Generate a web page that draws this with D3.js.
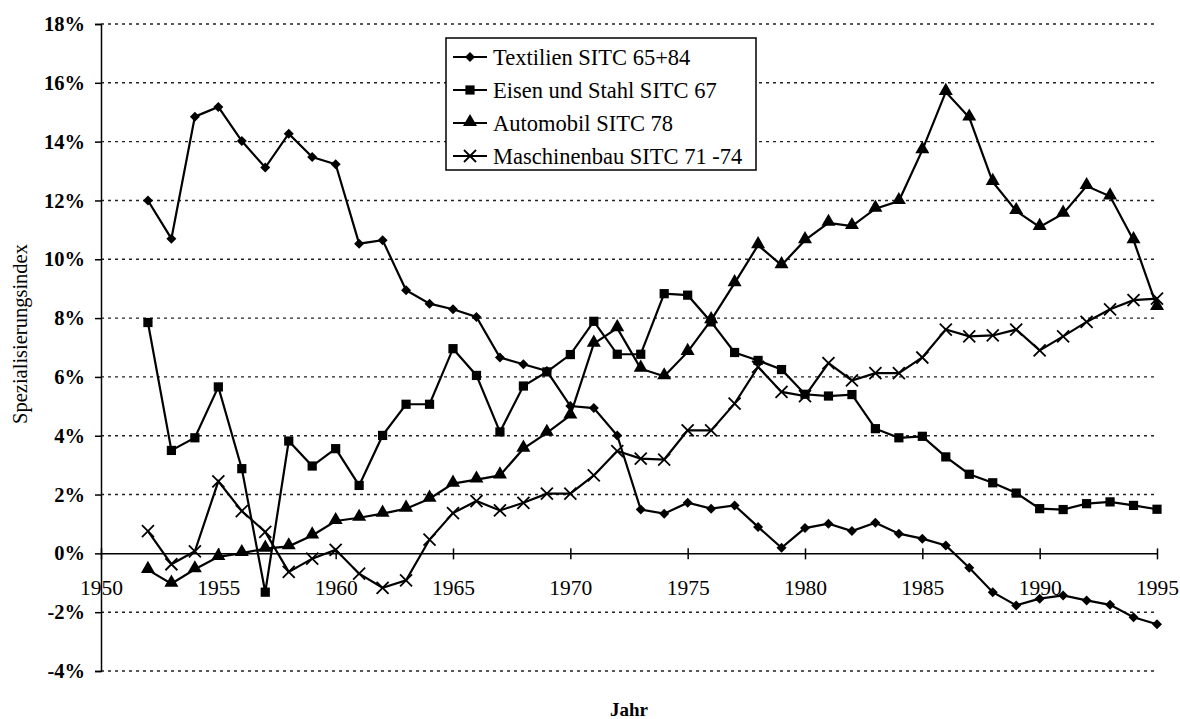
<!DOCTYPE html>
<html>
<head>
<meta charset="utf-8">
<script src="https://cdn.jsdelivr.net/npm/d3@7"></script>
<style>
body{margin:0;background:#fff;}
svg text{font-family:"Liberation Serif","Times New Roman",serif;fill:#000;}
</style>
</head>
<body>
<svg id="screen" width="1180" height="719"></svg>
<script>
var years=d3.range(1952,1996);
var textilien=[12.0,10.7,14.85,15.18,14.02,13.12,14.27,13.48,13.23,10.53,10.65,8.95,8.49,8.3,8.04,6.66,6.43,6.2,5.01,4.94,4.01,1.49,1.35,1.72,1.52,1.63,0.9,0.19,0.86,1.01,0.76,1.04,0.67,0.5,0.27,-0.49,-1.32,-1.77,-1.54,-1.43,-1.6,-1.75,-2.17,-2.41];
var eisen=[7.85,3.5,3.93,5.66,2.88,-1.32,3.82,2.97,3.56,2.31,4.01,5.07,5.07,6.96,6.05,4.13,5.69,6.17,6.76,7.89,6.77,6.77,8.83,8.78,7.87,6.83,6.56,6.25,5.41,5.35,5.4,4.24,3.93,3.98,3.28,2.69,2.4,2.05,1.52,1.49,1.69,1.75,1.63,1.5];
var automobil=[-0.56,-1.03,-0.54,-0.12,0.01,0.16,0.24,0.61,1.1,1.21,1.35,1.52,1.86,2.37,2.51,2.65,3.56,4.1,4.69,7.13,7.66,6.28,6.02,6.85,7.93,9.19,10.48,9.8,10.65,11.24,11.13,11.72,11.98,13.71,15.69,14.82,12.63,11.64,11.1,11.55,12.49,12.14,10.65,8.38];
var maschinen=[0.76,-0.37,0.07,2.45,1.44,0.73,-0.63,-0.18,0.12,-0.69,-1.17,-0.92,0.47,1.37,1.78,1.46,1.72,2.03,2.03,2.65,3.48,3.22,3.19,4.18,4.18,5.09,6.34,5.49,5.35,6.47,5.88,6.13,6.13,6.66,7.61,7.38,7.41,7.61,6.9,7.38,7.87,8.3,8.61,8.66];
var seriesNames=["Textilien SITC 65+84","Eisen und Stahl SITC 67","Automobil SITC 78","Maschinenbau SITC 71 -74"];
var markers=["diamond","square","triangle","x"];
var xTicks=[1950,1955,1960,1965,1970,1975,1980,1985,1990,1995];
var yTicks=[-4,-2,0,2,4,6,8,10,12,14,16,18];

var svg=d3.select("#screen");
var x=d3.scaleLinear().domain([1950,1995]).range([101,1157]);
var y=d3.scaleLinear().domain([-4,18]).range([671,24]);

var allSeries=[textilien,eisen,automobil,maschinen];

// gridlines (dotted), skip 0 which is the axis
svg.append("g").selectAll("line").data(yTicks.filter(function(d){return d!==0;})).enter().append("line")
  .attr("x1",x(1950)).attr("x2",x(1995))
  .attr("y1",function(d){return y(d);}).attr("y2",function(d){return y(d);})
  .attr("stroke","#222").attr("stroke-width",1.4).attr("stroke-dasharray","3,4");

// y axis
var yAxis=d3.axisLeft(y).tickValues(yTicks).tickSize(6).tickFormat(function(d){return d+"%";});
var gy=svg.append("g").attr("transform","translate("+x(1950)+",0)").call(yAxis).attr("font-family",null);
gy.select(".domain").attr("stroke","#000").attr("stroke-width",1.5);
gy.selectAll(".tick line").attr("stroke","#000").attr("stroke-width",1.5);
gy.selectAll(".tick text").attr("x",-16).attr("font-size",20.5).attr("font-weight","bold").attr("fill","#000");

// x axis at 0
var xAxis=d3.axisBottom(x).tickValues(xTicks).tickSizeInner(6).tickSizeOuter(0).tickFormat(d3.format("d"));
var gx=svg.append("g").attr("transform","translate(0,"+y(0)+")").call(xAxis).attr("font-family",null);
gx.select(".domain").attr("stroke","#000").attr("stroke-width",1.5);
gx.selectAll(".tick line").attr("y1",-5).attr("stroke","#000").attr("stroke-width",1.5);
gx.selectAll(".tick text").attr("y",42).attr("dy",0).attr("font-size",21.5).attr("fill","#000");

// lines
var line=d3.line().x(function(d,i){return x(years[i]);}).y(function(d){return y(d);});
svg.append("g").selectAll("path").data(allSeries).enter().append("path")
  .attr("d",line).attr("fill","none").attr("stroke","#000").attr("stroke-width",2.2);

function drawMarker(g,type){
  if(type==="diamond"){
    g.append("path").attr("d",d3.symbol().type(d3.symbolSquare).size(50)).attr("transform","rotate(45)").attr("fill","#000");
  } else if(type==="square"){
    g.append("path").attr("d",d3.symbol().type(d3.symbolSquare).size(85)).attr("fill","#000");
  } else if(type==="triangle"){
    g.append("path").attr("d",d3.symbol().type(d3.symbolTriangle).size(85)).attr("transform","translate(0,-1)").attr("fill","#000");
  } else {
    g.append("line").attr("x1",-6).attr("y1",-6).attr("x2",6).attr("y2",6).attr("stroke","#000").attr("stroke-width",1.8);
    g.append("line").attr("x1",-6).attr("y1",6).attr("x2",6).attr("y2",-6).attr("stroke","#000").attr("stroke-width",1.8);
  }
}

allSeries.forEach(function(s,k){
  svg.append("g").selectAll("g").data(s).enter().append("g")
    .attr("transform",function(d,i){return "translate("+x(years[i])+","+y(d)+")";})
    .each(function(){drawMarker(d3.select(this),markers[k]);});
});

// legend
var lg=svg.append("g").attr("transform","translate(446,38)");
lg.append("rect").attr("width",310).attr("height",132).attr("fill","#fff").attr("stroke","#000").attr("stroke-width",1.5);
seriesNames.forEach(function(n,k){
  var row=lg.append("g").attr("transform","translate(0,"+(19+k*33)+")");
  row.append("line").attr("x1",7).attr("x2",41).attr("stroke","#000").attr("stroke-width",2.2);
  drawMarker(row.append("g").attr("transform","translate(24,0)"),markers[k]);
  row.append("text").attr("x",47).attr("dy","0.35em").attr("font-size",22.5).text(n);
});

// axis titles
svg.append("text").attr("transform","translate(20,334) rotate(-90)").attr("text-anchor","middle")
  .attr("dy","0.35em").attr("font-size",20.5).text("Spezialisierungsindex");
svg.append("text").attr("x",(x(1950)+x(1995))/2).attr("y",716).attr("text-anchor","middle")
  .attr("font-size",19).attr("font-weight","bold").text("Jahr");
</script>
</body>
</html>
